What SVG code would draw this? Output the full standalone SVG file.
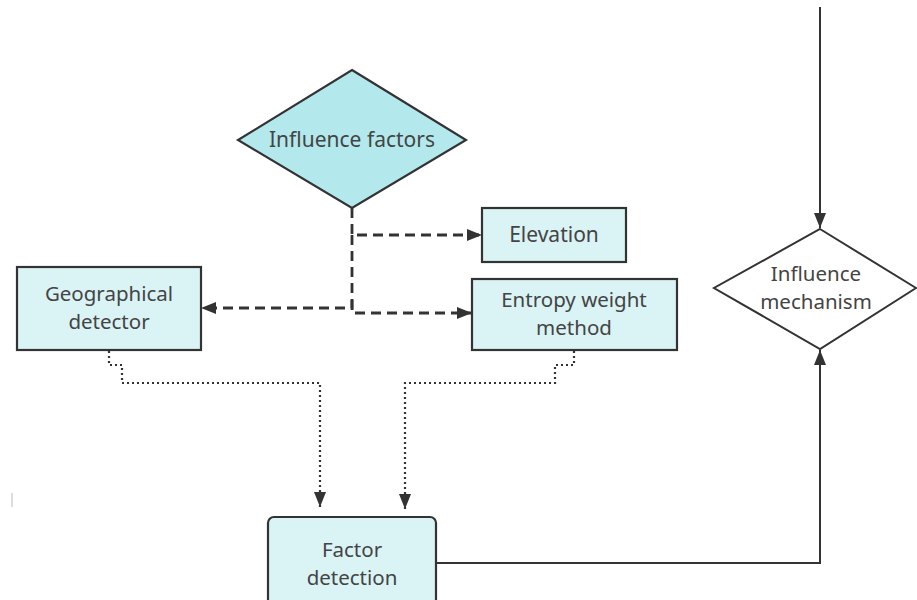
<svg xmlns="http://www.w3.org/2000/svg" width="917" height="600" viewBox="0 0 917 600">
<defs>
<style>
.t{font-family:"Noto Sans","Open Sans","Liberation Sans",sans-serif;font-size:21px;fill:#444;text-anchor:middle}
.t2{font-family:"Noto Sans","Open Sans","Liberation Sans",sans-serif;font-size:20.5px;fill:#444;text-anchor:middle}
.box{fill:#daf3f4;stroke:#333;stroke-width:2.2}
.dash{fill:none;stroke:#333;stroke-width:2.8;stroke-dasharray:10 6}
.dot{fill:none;stroke:#333;stroke-width:2.2;stroke-dasharray:2 3}
.solid{fill:none;stroke:#333;stroke-width:2}
</style>
<marker id="ah" viewBox="0 0 15 12" refX="15" refY="6" markerWidth="15" markerHeight="12" markerUnits="userSpaceOnUse" orient="auto">
<path d="M0,0 L15,6 L0,12 Z" fill="#333"/>
</marker>
</defs>
<rect width="917" height="600" fill="#fff"/>
<g id="connectors">
<path class="dash" d="M352,208 V235 H482" marker-end="url(#ah)"/>
<path class="dash" d="M352,235 V308 H201" marker-end="url(#ah)"/>
<path class="dash" d="M352,300 V313 H472" marker-end="url(#ah)"/>
<path class="dot" d="M109,351 V365 H122 V383 H320 V507" marker-end="url(#ah)"/>
<path class="dot" d="M574,351 V365 H555 V383 H405 V509" marker-end="url(#ah)"/>
<path class="solid" d="M436,563 H820 V350" marker-end="url(#ah)"/>
<path class="solid" d="M820,7 V228" marker-end="url(#ah)"/>
<line x1="12" y1="493" x2="12" y2="507" stroke="#bbb" stroke-width="1"/>
</g>
<g id="influence-factors">
<polygon points="352,70 466,140 352,208 238,140" fill="#b3e9ec" stroke="#333" stroke-width="2.2"/>
<text class="t" x="352" y="147">Influence factors</text>
</g>
<g id="elevation">
<rect class="box" x="482" y="208" width="144" height="54"/>
<text class="t" x="554" y="242">Elevation</text>
</g>
<g id="entropy">
<rect class="box" x="472" y="279" width="205" height="71"/>
<text class="t2" x="574" y="307">Entropy weight</text>
<text class="t2" x="574" y="335">method</text>
</g>
<g id="geo">
<rect class="box" x="17" y="267" width="184" height="83"/>
<text class="t2" x="109" y="301">Geographical</text>
<text class="t2" x="109" y="329">detector</text>
</g>
<g id="factor-detection">
<rect class="box" x="268" y="517" width="168" height="100" rx="6"/>
<text class="t2" x="352" y="557">Factor</text>
<text class="t2" x="352" y="585">detection</text>
</g>
<g id="influence-mechanism">
<polygon points="820,229 916,288 820,349 714,288" fill="#fff" stroke="#333" stroke-width="2"/>
<text class="t2" x="816" y="281">Influence</text>
<text class="t2" x="816" y="309">mechanism</text>
</g>
</svg>
